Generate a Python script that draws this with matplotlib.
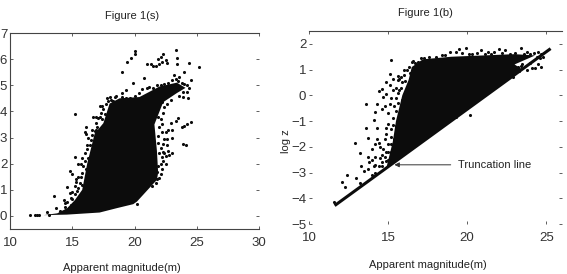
import matplotlib
matplotlib.use("Agg")
import matplotlib.pyplot as plt

plt.rcParams['font.family'] = ['Liberation Sans', 'DejaVu Sans']

# Figure 1(s): dense core outline
core_s_x = [12.7, 14.56, 17.2, 18.6, 19.9, 20.2, 21.2, 21.8, 21.9, 21.8, 21.6, 22.3, 23.4, 24.1, 23.4, 22, 20.4, 18.8, 18, 17.5, 16.8, 16.2, 15.8, 15.2, 14.6, 13.8]
core_s_y = [0.03, 0.05, 0.13, 0.3, 0.45, 0.55, 1.07, 1.38, 1.65, 2.5, 3.5, 4.35, 4.7, 4.9, 5.1, 4.95, 4.55, 4.5, 4.3, 3.55, 3.15, 2.0, 1.0, 0.6, 0.3, 0.1]
# Figure 1(s): stray points
pts_s_x = [19.4, 19.7, 20, 20.05, 19, 19.9, 20.8, 21, 21.3, 21.5, 21.75, 22, 22.2, 22.3, 21.9, 22.1, 22.5, 22.6, 23.3, 23.4, 23.4, 24.4, 25.2, 24, 23.2, 23.6, 24.2, 24.4, 24.5, 24.3, 23.9,
           15.2, 15.2, 14.8, 15, 13.5, 14.4, 14.3, 14.4, 14.6, 15, 14.8, 15.3, 15.2, 15.5, 15.7, 16, 16, 16.1, 16.6, 16.9, 16.7, 17.2, 17.4, 17.2, 17.8, 18, 18.5, 19, 19.3, 18.6, 13.7, 13, 11.6, 12, 12.3, 12.2, 13.1, 14,
           23.9, 24.1, 24.5, 24, 23.8, 24.2, 23.5, 23.3, 23, 23, 22.7, 22.5, 22.2, 22.9, 22.6, 23, 22.8, 22.4, 22.3, 22.6, 22.7, 22.3, 22.2, 22.5, 22.1, 21.8, 20.2, 21.9, 22.3, 21.9,
           14.2, 14.5, 14.7, 14.9, 15.1, 14.6, 15, 14.9, 15.2, 15.4, 15.5, 15.3, 15.6, 15.7, 15.8, 15.5, 15.8, 15.9, 16, 16.1, 15.8, 16.2, 16.3, 16.4, 16.2, 16.5, 16.3, 16.6, 16.1, 16.8, 16.9, 17, 17.1, 16.9, 17.3, 17.5, 17.4, 17.6, 17.7, 17.9, 18.1, 18.3, 18.4, 18.8, 19, 19.3, 19.6, 20, 20.4, 20.6, 21, 21.2, 21.5, 21.8, 22.1, 22.4, 22.7, 23, 23.3, 23.5, 23.8, 24, 23.6, 23.9, 24.2, 22.9, 22.6, 22.4, 22.2, 22.1, 22, 22.2, 22.4, 21.9, 22.1, 22, 22.3, 22.5, 22.2, 21.9, 21.8, 22, 21.7, 21.4, 22.1]
pts_s_y = [5.9, 6.05, 6.2, 6.3, 5.5, 5.08, 5.27, 5.8, 5.8, 5.75, 5.72, 5.8, 5.9, 6.2, 6.0, 6.1, 5.95, 5.85, 6.35, 6.05, 5.8, 5.85, 5.7, 5.5, 5.4, 5.3, 5.0, 4.9, 5.2, 4.5, 4.75,
           3.9, 2.27, 1.72, 1.6, 0.75, 0.5, 0.6, 0.35, 1.1, 0.9, 0.88, 1.3, 1.15, 2, 2.0, 2.4, 3.2, 3.4, 3.3, 3.3, 3.8, 3.8, 4.2, 4.2, 4.5, 4.55, 4.6, 4.7, 4.8, 4.3, 0.3, 0.15, 0.03, 0.04, 0.05, 0.03, 0.05, 0.2,
           2.75, 2.73, 3.6, 3.45, 3.4, 3.5, 3.75, 3.65, 3.3, 3.0, 3.3, 3.2, 3.5, 3.55, 2.95, 2.4, 2.35, 2.4, 2.75, 2.7, 2.5, 2.1, 1.8, 2, 1.6, 1.4, 0.45, 3.8, 3.95, 3.05,
           0.15, 0.2, 0.3, 0.4, 0.45, 0.55, 0.65, 0.7, 0.85, 0.95, 1.05, 1.4, 1.25, 1.5, 1.65, 1.5, 1.2, 1.9, 2.1, 1.8, 2.2, 2.55, 2.2, 2.7, 2.7, 2.9, 3, 3.1, 3.15, 3.25, 3.55, 3.4, 3.75, 3.8, 3.95, 4.1, 3.7, 3.9, 4.3, 4.4, 4.45, 4.4, 4.55, 4.45, 4.55, 4.5, 4.5, 4.6, 4.7, 4.85, 4.9, 4.95, 4.9, 5, 5, 5.05, 5.1, 5.2, 5.25, 5.15, 5.1, 5.05, 4.6, 4.55, 4.75, 4.45, 4.3, 4.15, 4.35, 3.7, 3.4, 3.2, 2.95, 2.8, 2.6, 2.4, 2.45, 2.3, 2.25, 1.9, 1.7, 1.45, 1.25, 1.15, 2.0]

# Figure 1(b)
core_b_x = [14.9, 23.5, 23, 24.3, 23, 21, 19, 17.2, 16.5, 16.3, 15.9, 15.5, 15.3, 15.1]
core_b_y = [-2.8, 1.0, 1.2, 1.55, 1.6, 1.55, 1.5, 1.4, 1.1, 0.6, 0, -1, -1.8, -2.3]
pts_b_x = [15.2, 15.1, 14.9, 15.1, 14.4, 14.6, 14.7, 14.9, 15.3, 13.6, 14.3, 14.6, 14.2, 14.8, 15, 15.1, 14.1, 14.3, 13.6, 15.2, 15.3, 14.3, 14.9, 13.7, 12.9, 13.2, 14.2, 14, 14.5, 14.6, 15, 14.8, 15.2, 15.3, 14.2, 14, 13.7, 13.8, 14.2, 14.6, 14.8, 13.3, 13.5, 13.7, 14, 14.2, 13, 13.2, 12.1, 12.4, 12.3, 11.6, 15.5, 15.8, 16.2, 16.5, 16.7, 15.9, 15.7, 17.3, 17.6, 17,
           19.5, 19.9, 19.3, 18.9, 20.1, 20.9, 21.3, 21.7, 22, 22.4, 23.4, 23.8, 24.2, 24.5, 24.7, 22.5, 22.9, 23.2, 23.5, 23.8, 24.1, 24.3, 22.7, 23.1, 20.2, 19.3, 24.8,
           15, 15.2, 15.4, 15.5, 15.3, 15.5, 15.6, 15.5, 15.6, 15.8, 15.9, 15.6, 16, 16.1, 15.7, 16.3, 16, 16.4, 15.4, 15.1, 14.9, 14.7, 14.4, 14.9, 15, 15.4, 15.2, 14.4, 14.5, 14.1, 14.6, 14.9, 15, 15.2, 15.3, 15.6, 16.6, 16.9, 17.1, 18, 18.4, 18.6, 19.7, 20.3, 20.6, 21.1, 21.5, 22.2, 22.7, 23, 23.6, 24, 24.4, 24.6, 22.8, 23.3, 23.4, 22.6, 24.5, 24.7, 24, 22.9]
pts_b_y = [1.38, 0.82, 0.5, 0.4, 0.15, 0.25, -0.05, 0.05, 0.2, -0.32, -0.33, -0.55, -0.65, -0.4, -0.7, -0.35, -0.95, -1.25, -1.25, -1.3, -1.15, -1.7, -1.5, -1.65, -1.85, -2.25, -1.9, -2.1, -2, -2.3, -1.9, -1.7, -1.9, -2.1, -2.4, -2.5, -2.4, -2.6, -2.7, -2.6, -2.4, -2.75, -2.95, -2.85, -3.1, -3, -3.2, -3.4, -3.35, -3.1, -3.58, -4.15, 0.3, 0.7, 1, 1.3, 1.25, -0.2, 0.2, 1.45, 1.5, 1.2,
           1.8, 1.85, 1.7, 1.7, 1.6, 1.75, 1.7, 1.7, 1.8, 1.75, 1.85, 1.7, 1.65, 1.7, 1.6, 1.25, 1.3, 1.1, 1.2, 1.0, 1.05, 1.05, 0.9, 0.9, -0.78, -0.85, 1.5,
           -2.2, -1.6, -1.7, -1.2, -0.9, -0.6, -0.3, -0.1, 0.1, 0.3, 0.5, 0.6, 0.8, 0.55, 0.65, 1.1, 1, 0.85, -1.95, -2.5, -2.55, -2.1, -1.85, -1.25, -1.1, -0.4, -2.2, -2.75, -2.45, -2.75, -2.75, -2.2, -2.5, -0.1, 0.65, 0.75, 1.35, 1.3, 1.45, 1.5, 1.55, 1.58, 1.65, 1.6, 1.65, 1.62, 1.62, 1.65, 1.62, 1.65, 1.6, 1.6, 1.5, 1.45, 1.15, 0.95, 1.15, 1.0, 1.2, 1.1, 1.25, 0.7]
trunc_x = [11.7, 25.2]
trunc_y = [-4.25, 1.78]

xticks_s = [10, 15, 20, 25, 30]
yticks_s = [0, 1, 2, 3, 4, 5, 6, 7]
xticks_b = [10, 15, 20, 25]
yticks_b = [-5, -4, -3, -2, -1, 0, 1, 2]

W, H = 567, 274
fig = plt.figure(figsize=(W / 100, H / 100), dpi=100)
ax1 = fig.add_axes([10 / W, 1 - 229 / H, 249 / W, 196 / H])
ax2 = fig.add_axes([309 / W, 1 - 224 / H, 253 / W, 193 / H])

ink = '#0c0c0c'
grey = '#444444'

ax1.fill(core_s_x, core_s_y, color=ink, lw=0)
ax1.scatter(pts_s_x, pts_s_y, s=5, color=ink, lw=0)
ax1.set_xlim(10, 30)
ax1.set_ylim(-0.5, 7)
ax1.set_xticks(xticks_s)
ax1.set_yticks(yticks_s)

ax2.fill(core_b_x, core_b_y, color=ink, lw=0)
ax2.scatter(pts_b_x, pts_b_y, s=5, color=ink, lw=0)
ax2.plot(trunc_x, trunc_y, color=ink, lw=2.2)
ax2.set_xlim(10, 26)
ax2.set_ylim(-5, 2.5)
ax2.set_xticks(xticks_b)
ax2.set_yticks(yticks_b)
ax2.annotate('Truncation line', xy=(15.4, -2.7), xytext=(19.4, -2.7), fontsize=8, color='#222222',
             va='center', arrowprops=dict(arrowstyle='-|>', color='#333333', lw=0.7, mutation_scale=7, shrinkA=3, shrinkB=0))
ax2.set_ylabel('log z', fontsize=8, color='#222222')
ax2.yaxis.set_label_coords(-0.07, 0.43)

for ax in (ax1, ax2):
    ax.tick_params(direction='in', length=2, width=0.6, color=grey, labelsize=9.5, labelcolor='#333333',
                   right=True, top=True)
    ax.tick_params(axis='x', pad=6)
    ax.tick_params(axis='y', pad=2)
    ax.spines['right'].set_visible(False)
    ax.patch.set_alpha(0)
    for s in ax.spines.values():
        s.set_color(grey)
        s.set_linewidth(0.8)
ax2.spines['left'].set_visible(False)
ax2.spines['bottom'].set_visible(False)
ax2.set_yticklabels([str(v).replace('-', '\u2212') for v in yticks_b])

ax1.set_title('Figure 1(s)', fontsize=8, color='#222222', x=0.49, pad=10)
ax2.set_title('Figure 1(b)', fontsize=8, color='#222222', x=0.46, pad=11)
ax1.set_xlabel('Apparent magnitude(m)', fontsize=8, color='#222222', x=0.45, labelpad=10)
ax2.set_xlabel('Apparent magnitude(m)', fontsize=8, color='#222222', x=0.47, labelpad=11)

fig.savefig('out.png', dpi=100)
